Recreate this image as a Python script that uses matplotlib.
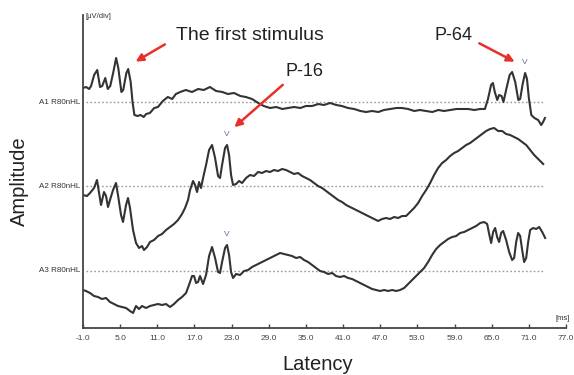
import matplotlib.pyplot as plt

plt.rcParams['font.family'] = ['Liberation Sans', 'DejaVu Sans']

# latency (ms) and amplitude (relative to each trace's own baseline)
lat_a1 = [-1.0, -0.5, 0.0, 0.3, 0.8, 1.3, 1.75, 2.1, 2.6, 3.0, 3.4, 3.9, 4.35, 4.7, 5.2, 5.5,
          6.0, 6.3, 6.7, 7.0, 7.3, 7.8, 8.3, 8.8, 9.2, 9.8, 10.5, 11.1, 11.9, 12.7, 13.4, 14.0,
          14.7, 15.6, 16.6, 17.6, 18.5, 19.5, 20.5, 21.5, 22.4, 23.4, 24.4, 25.3, 26.3, 27.3,
          28.2, 29.2, 30.2, 31.2, 32.1, 33.1, 34.1, 35.0, 36.0, 37.0, 37.9, 38.9, 39.9, 40.8,
          41.8, 42.8, 43.8, 44.7, 45.7, 46.7, 47.6, 48.6, 49.6, 50.5, 51.5, 52.5, 53.4, 54.4,
          55.4, 56.4, 57.3, 58.3, 59.3, 60.2, 61.2, 62.2, 63.1, 63.9, 64.4, 64.9, 65.2, 65.5,
          65.9, 66.2, 66.6, 66.9, 67.4, 67.9, 68.3, 68.8, 69.3, 69.6, 70.0, 70.4, 70.7, 71.0,
          71.4, 71.9, 72.5, 73.0, 73.3, 73.6]
amp_a1 = [1.4, 1.5, 1.3, 1.6, 2.7, 3.2, 1.5, 1.6, 2.4, 1.3, 1.6, 3.0, 4.4, 3.4, 1.0, 1.2,
          2.9, 3.3, 2.0, 0.0, -1.3, -1.4, -1.3, -1.5, -1.2, -1.1, -0.6, -0.5, 0.1, 0.5, 0.3, 0.8,
          1.0, 1.2, 1.0, 1.3, 1.2, 1.5, 1.1, 1.0, 0.8, 0.9, 0.6, 0.5, 0.3, -0.1,
          -0.4, -0.6, -0.5, -0.7, -0.6, -0.5, -0.6, -0.4, -0.4, -0.2, -0.3, -0.1, -0.3, -0.4,
          -0.6, -0.7, -0.9, -1.0, -0.9, -1.0, -0.8, -0.7, -0.6, -0.6, -0.7, -0.9, -0.8, -0.9,
          -1.0, -0.8, -0.9, -0.8, -0.7, -0.7, -0.7, -0.8, -0.7, -0.7, 0.3, 1.7, 1.9, 1.0,
          0.2, 0.7, 0.6, 0.0, 1.4, 2.7, 3.0, 2.0, 0.2, 0.3, 1.8, 2.9, 2.3, 0.4,
          -1.3, -1.6, -1.8, -2.3, -2.0, -1.6]

lat_a2 = [-1.0, -0.35, 0.13, 0.78, 1.26, 1.58, 1.91, 2.39, 2.72, 3.04, 3.36, 3.85, 4.33, 4.65,
          5.14, 5.46, 5.95, 6.27, 6.59, 7.08, 7.56, 8.05, 8.53, 8.85, 9.34, 9.82, 10.47, 11.12,
          11.76, 12.41, 13.05, 13.7, 14.35, 14.99, 15.48, 15.96, 16.29, 16.77, 17.09, 17.42,
          17.74, 18.06, 18.39, 18.87, 19.36, 19.84, 20.33, 20.81, 21.13, 21.46, 21.94, 22.26,
          22.59, 22.91, 23.23, 23.72, 24.2, 24.69, 25.33, 25.98, 26.62, 27.27, 27.92, 28.56,
          29.21, 29.85, 30.5, 31.15, 31.79, 32.44, 33.09, 33.73, 34.38, 35.03, 35.67, 36.32,
          36.96, 37.61, 38.26, 38.9, 39.55, 40.2, 40.84, 41.49, 42.13, 42.78, 43.43, 44.07,
          44.72, 45.36, 46.01, 46.66, 47.3, 47.95, 48.6, 49.24, 49.89, 50.54, 51.18, 51.83,
          52.47, 53.12, 53.77, 54.41, 55.06, 55.7, 56.35, 57.0, 57.64, 58.29, 58.94, 59.58,
          60.23, 60.87, 61.52, 62.17, 62.81, 63.46, 64.1, 64.75, 65.4, 66.04, 66.69, 67.33,
          67.98, 68.63, 69.27, 69.92, 70.57, 71.21, 71.86, 72.51, 73.32]
amp_a2 = [-0.9, -1.0, -0.7, -0.2, 0.6, -0.6, -1.9, -0.6, -1.0, -2.1, -1.4, -0.4, 0.3, -0.9,
          -2.9, -3.6, -1.9, -1.2, -2.2, -4.4, -5.7, -6.2, -6.0, -6.4, -6.1, -5.6, -5.4, -5.0,
          -4.8, -4.4, -4.1, -3.8, -3.4, -2.8, -2.2, -1.4, -0.4, 0.5, 0.1, -0.6,
          0.4, -0.2, 0.8, 2.1, 3.6, 4.1, 2.8, 1.0, 0.8, 2.1, 3.8, 4.1,
          3.1, 1.1, 0.1, 0.2, 0.5, 0.3, 0.8, 1.1, 1.0, 1.4, 1.3, 1.5,
          1.4, 1.6, 1.5, 1.7, 1.6, 1.4, 1.2, 1.3, 1.0, 0.8, 0.6, 0.3,
          0.0, -0.2, -0.5, -0.8, -1.1, -1.4, -1.6, -1.9, -2.1, -2.3, -2.5, -2.7,
          -2.9, -3.1, -3.3, -3.5, -3.3, -3.2, -3.3, -3.1, -3.2, -3.0, -3.0, -2.6,
          -2.2, -1.7, -1.0, -0.4, 0.3, 1.1, 1.8, 2.3, 2.6, 3.0, 3.3, 3.5,
          3.8, 4.1, 4.3, 4.6, 4.9, 5.2, 5.5, 5.7, 5.8, 5.5, 5.5, 5.2,
          5.1, 4.9, 4.7, 4.4, 4.1, 3.6, 3.1, 2.7, 2.2]

lat_a3 = [-1.0, -0.52, 0.13, 0.78, 1.42, 2.07, 2.72, 3.36, 4.01, 4.65, 5.3, 5.95, 6.59, 7.08,
          7.56, 8.05, 8.53, 9.18, 9.82, 10.47, 11.12, 11.76, 12.41, 13.05, 13.7, 14.35, 14.99,
          15.64, 16.12, 16.61, 16.93, 17.26, 17.58, 17.9, 18.39, 18.87, 19.36, 19.84, 20.33,
          20.81, 21.13, 21.46, 21.94, 22.26, 22.59, 22.91, 23.23, 23.72, 24.36, 25.01, 25.66,
          26.3, 26.95, 27.59, 28.24, 28.89, 29.53, 30.18, 30.83, 31.47, 32.12, 32.76, 33.41,
          34.06, 34.7, 35.35, 36.0, 36.64, 37.29, 37.93, 38.58, 39.23, 39.87, 40.52, 41.16,
          41.81, 42.46, 43.1, 43.75, 44.4, 45.04, 45.69, 46.33, 46.98, 47.63, 48.27, 48.92,
          49.57, 50.21, 50.86, 51.5, 52.15, 52.8, 53.44, 54.09, 54.73, 55.38, 56.03, 56.67,
          57.32, 57.96, 58.61, 59.26, 59.9, 60.55, 61.2, 61.84, 62.49, 63.14, 63.78, 64.27,
          64.59, 64.91, 65.23, 65.56, 65.88, 66.2, 66.53, 66.85, 67.33, 67.82, 68.3, 68.63,
          68.95, 69.27, 69.6, 69.92, 70.24, 70.57, 70.89, 71.21, 71.7, 72.19, 72.67, 73.16, 73.64]
amp_a3 = [-1.9, -2.0, -2.2, -2.5, -2.6, -2.8, -2.7, -3.1, -3.3, -3.5, -3.6, -3.7, -4.0, -4.2,
          -3.5, -3.8, -3.5, -3.7, -3.5, -3.4, -3.3, -3.4, -3.3, -3.6, -3.3, -2.9, -2.6,
          -2.2, -1.4, -0.5, -0.5, -1.2, -1.1, -0.5, -1.3, -0.4, 1.5, 2.4, 1.3,
          -0.1, -0.2, 0.9, 2.3, 2.6, 1.6, -0.1, -0.7, -0.3, -0.4, 0.0, 0.1,
          0.4, 0.6, 0.8, 1.0, 1.2, 1.4, 1.6, 1.8, 1.7, 1.6, 1.5, 1.3,
          1.4, 1.1, 0.9, 0.6, 0.3, 0.0, -0.1, -0.3, -0.2, -0.5, -0.6, -0.5,
          -0.7, -0.8, -1.0, -1.2, -1.4, -1.6, -1.8, -1.9, -2.0, -1.9, -2.0, -1.9,
          -2.0, -1.9, -1.7, -1.3, -0.9, -0.5, -0.1, 0.3, 0.9, 1.6, 2.2, 2.6,
          2.9, 3.2, 3.4, 3.5, 3.8, 3.9, 4.1, 4.3, 4.5, 4.8, 4.9, 4.7,
          3.7, 2.8, 3.9, 4.3, 3.4, 2.9, 3.8, 4.0, 3.1, 1.9, 1.1, 1.3,
          2.9, 3.8, 3.5, 2.1, 0.9, 1.3, 2.9, 4.1, 4.3, 4.2, 4.4, 3.9, 3.3]

trace_names = ['A1 R80nHL', 'A2 R80nHL', 'A3 R80nHL']
baselines = [22.6, 14.2, 5.7]
wave_v_lat = [70.4, 22.26, 22.26]
wave_v_amp = [2.9, 4.1, 2.6]
tick_vals = [-1, 5, 11, 17, 23, 29, 35, 41, 47, 53, 59, 65, 71, 77]
tick_labels = ['-1.0', '5.0', '11.0', '17.0', '23.0', '29.0', '35.0', '41.0', '47.0',
               '53.0', '59.0', '65.0', '71.0', '77.0']

fig = plt.figure(figsize=(5.74, 3.75), dpi=100)
ax = fig.add_axes([83 / 574, 47 / 375, 483 / 574, 313 / 375])
ax.set_xlim(-1, 77)
ax.set_ylim(0, 31.3)

traces = [(lat_a1, amp_a1), (lat_a2, amp_a2), (lat_a3, amp_a3)]
for (lat, amp), base, name, vx, vy in zip(traces, baselines, trace_names, wave_v_lat, wave_v_amp):
    ax.hlines(base, -0.5, 73.3, colors='#9a9a9a', linestyles=(0, (1.2, 1.6)), lw=1.0)
    ax.plot(lat, [a + base for a in amp], color='#333333', lw=1.5, solid_joinstyle='round')
    ax.text(-1.45, base, name, ha='right', va='center', fontsize=5.8, color='#333333',
            clip_on=False)
    ax.text(vx, base + vy + 1.1, 'V', ha='center', va='center', fontsize=6,
            color='#5a6c98')

for s in ['top', 'right']:
    ax.spines[s].set_visible(False)
for s in ['left', 'bottom']:
    ax.spines[s].set_color('#444444')
    ax.spines[s].set_linewidth(1.3)
ax.set_yticks([])
ax.set_xticks(tick_vals)
ax.set_xticklabels(tick_labels)
ax.tick_params(axis='x', direction='in', length=3, width=1, colors='#444444',
               labelsize=6, pad=5)

arrow = dict(arrowstyle='-|>', color='#e8302a', lw=1.8, mutation_scale=11)
ax.annotate('', xy=(7.1, 26.5), xytext=(12.6, 28.5), arrowprops=arrow)
ax.annotate('', xy=(23.1, 19.9), xytext=(31.6, 24.5), arrowprops=arrow)
ax.annotate('', xy=(69.1, 26.5), xytext=(62.6, 28.6), arrowprops=arrow)
ax.text(26.0, 29.3, 'The first stimulus', ha='center', va='center', fontsize=14,
        color='#222222')
ax.text(34.7, 25.7, 'P-16', ha='center', va='center', fontsize=13, color='#222222')
ax.text(58.8, 29.2, 'P-64', ha='center', va='center', fontsize=13, color='#222222')

fig.text(86 / 574, 1 - 16 / 375, '[µV/div]', ha='left', va='center', fontsize=5.5,
         color='#333333')
fig.text(556 / 574, 1 - 318 / 375, '[ms]', ha='left', va='center', fontsize=5.5,
         color='#333333')
fig.text(19 / 574, 1 - 181 / 375, 'Amplitude', rotation=90, ha='center', va='center',
         fontsize=14.5, color='#222222')
fig.text(318 / 574, 5 / 375, 'Latency', ha='center', va='baseline', fontsize=14.5,
         color='#222222')

fig.savefig('out.png', dpi=100, facecolor='white')
